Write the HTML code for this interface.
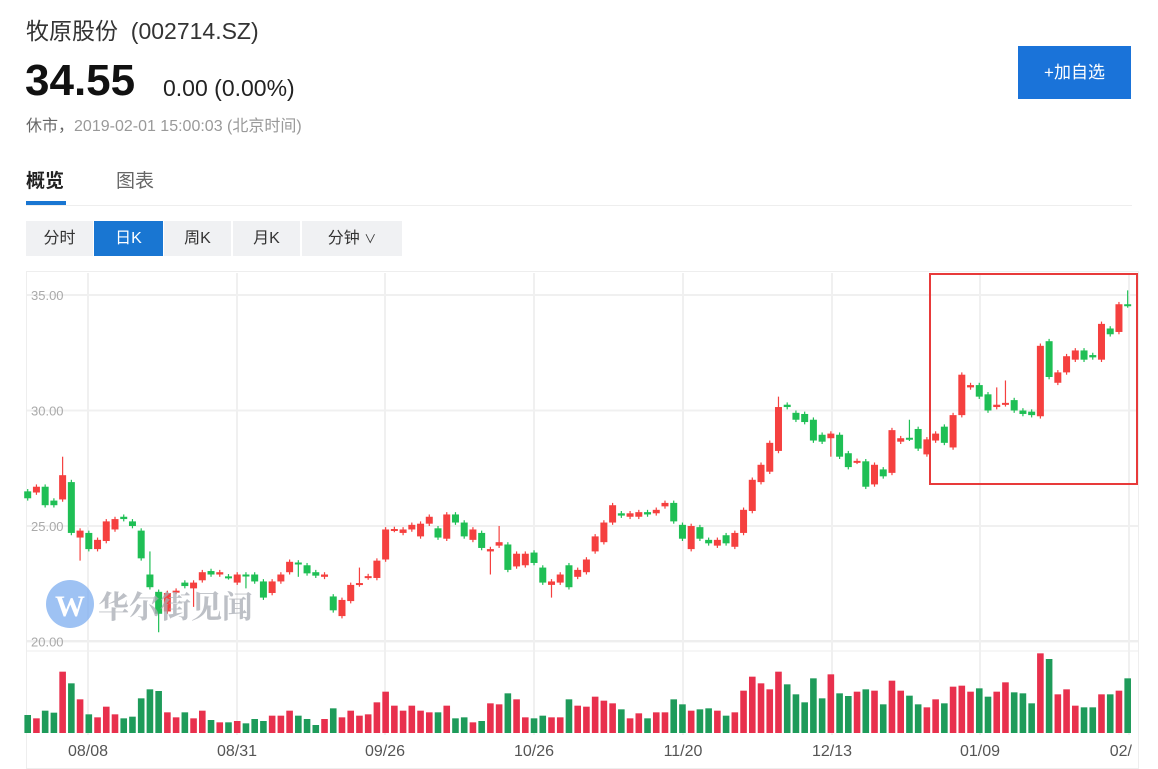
<!DOCTYPE html>
<html><head><meta charset="utf-8"><style>
body{margin:0;width:1158px;height:769px;background:#fff;overflow:hidden;font-family:"Liberation Sans","Noto Sans CJK SC",sans-serif;position:relative}
.a{position:absolute;white-space:nowrap}
.seg{position:absolute;top:221px;height:35px;line-height:35px;text-align:center;font-size:16px;color:#333;background:#f0f1f3}
</style></head><body>
<div class="a" style="left:26px;top:12px;font-size:23px;color:#333">牧原股份&nbsp;&nbsp;(002714.SZ)</div>
<div class="a" style="left:25px;top:56px;font-size:44px;font-weight:bold;color:#111">34.55</div>
<div class="a" style="left:163px;top:75px;font-size:23px;color:#222">0.00 (0.00%)</div>
<div class="a" style="left:26px;top:112px;font-size:16px;color:#999"><span style="color:#666">休市，</span>2019-02-01 15:00:03 (北京时间)</div>
<div class="a" style="left:1018px;top:46px;width:113px;height:53px;background:#1a73d9;color:#fff;font-size:17px;line-height:53px;text-align:center">+加自选</div>
<div class="a" style="left:26px;top:166px;font-size:19px;font-weight:bold;color:#222">概览</div>
<div class="a" style="left:116px;top:166px;font-size:19px;color:#666">图表</div>
<div class="a" style="left:26px;top:201px;width:40px;height:4px;background:#1976d2"></div>
<div class="a" style="left:26px;top:205px;width:1106px;height:1px;background:#eee"></div>
<div class="seg" style="left:26px;width:67px">分时</div>
<div class="seg" style="left:94px;width:69px;background:#1976d2;color:#fff">日K</div>
<div class="seg" style="left:164px;width:67px">周K</div>
<div class="seg" style="left:233px;width:67px">月K</div>
<div class="seg" style="left:302px;width:100px">分钟 <span style="font-size:12px">∨</span></div>
<svg id="c" class="a" style="left:0;top:0" width="1158" height="769"></svg>
<script>
var C=[[26.5,26.2],[26.45,26.7],[26.7,25.9],[26.1,25.9],[26.15,27.2,28],[26.9,24.7],[24.5,24.8,0,23.5],[24.7,24.0],[24.0,24.4],[24.35,25.2],[24.85,25.3],[25.4,25.3],[25.2,25.0],[24.8,23.6],[22.9,22.35,23.9],[22.15,21.2,0,20.4],[21.3,22.1],[22.15,22.2],[22.55,22.4],[22.3,22.55,0,21.5],[22.65,23.0],[23.05,22.9],[22.9,23.0],[22.82,22.78],[22.55,22.9],[22.9,22.85,0,22.3],[22.9,22.6],[22.6,21.9],[22.1,22.6],[22.6,22.9],[23.0,23.45],[23.42,23.38,0,22.8],[23.3,22.95],[23.0,22.85],[22.8,22.9],[21.95,21.35],[21.1,21.8],[21.75,22.45],[22.47,22.53,23.2],[22.77,22.83],[22.75,23.5],[23.55,24.85],[24.83,24.87],[24.7,24.85],[24.85,25.05],[24.55,25.1],[25.1,25.4],[24.9,24.5],[24.45,25.5],[25.5,25.15],[25.15,24.55],[24.4,24.85],[24.7,24.05],[23.9,24.0,0,22.9],[24.15,24.3,25.0],[24.2,23.1],[23.25,23.8],[23.3,23.8],[23.85,23.4],[23.2,22.55],[22.45,22.6,0,21.9],[22.55,22.9],[23.3,22.35],[22.8,23.1],
[23.0,23.55],[23.9,24.55],[24.3,25.15],[25.15,25.9],[25.55,25.45],[25.4,25.55],[25.4,25.6],[25.6,25.5],[25.55,25.7],[25.85,26.0],[26.0,25.2],[25.05,24.45],[24.0,25.0],[24.95,24.45],[24.4,24.25],[24.15,24.4],[24.6,24.25],[24.1,24.7],[24.7,25.7],[25.65,27.0],[26.9,27.65],[27.35,28.6],[28.25,30.15,30.6],[30.25,30.15],[29.9,29.6],[29.85,29.5],[29.6,28.7],[28.95,28.65],[28.8,29.0,0,28.0],[28.95,28.0],[28.15,27.55],[27.78,27.82],[27.8,26.7],[26.8,27.65],[27.45,27.15],[27.3,29.15],[28.65,28.8],[28.82,28.78,29.6],[29.2,28.35],[28.1,28.75],[28.7,29.0],[29.3,28.6],[28.4,29.8],[29.8,31.55],[31.0,31.1],[31.1,30.6],[30.7,30.0],[30.15,30.25,31.0],[30.27,30.33,31.3],[30.45,30.0],[30.0,29.85],[29.95,29.8],[29.75,32.8],[33.0,31.45],[31.2,31.65],[31.65,32.35],[32.2,32.6],[32.6,32.2],[32.4,32.3],[32.2,33.75],[33.55,33.3],[33.4,34.6],[34.6,34.55,35.2]];
var V=[1335,1345,1322,1328,1205,1240,1288,1333,1342,1310,1333,1345,1340,1285,1258,1263,1327,1342,1327,1345,1322,1350,1357,1357,1353,1360,1347,1353,1337,1337,1322,1337,1347,1365,1347,1315,1342,1322,1337,1333,1297,1265,1307,1322,1307,1322,1327,1327,1307,1345,1342,1357,1353,1300,1303,1270,1288,1342,1345,1337,1342,1342,1288,1307,1310,1280,1292,1300,1318,1345,1330,1345,1327,1327,1288,1303,1322,1318,1315,1322,1337,1327,1262,1220,1240,1258,1205,1243,1273,1297,1225,1285,1213,1270,1278,1265,1258,1262,1303,1232,1262,1277,1303,1312,1288,1300,1250,1247,1265,1255,1280,1265,1237,1267,1270,1300,1150,1167,1273,1258,1307,1312,1312,1273,1273,1262,1225];
var s='';
function Y(p){return 295+(35-p)*23.1}
s+='<rect x="26.5" y="271.5" width="1112" height="497" fill="none" stroke="#eee"/>';
[35,30,25,20].forEach(function(p){var y=Y(p);s+='<line x1="27" x2="1138" y1="'+y+'" y2="'+y+'" stroke="#f0f0f0" stroke-width="2"/>';});
s+='<line x1="27" x2="1138" y1="641" y2="641" stroke="#eee" stroke-width="2"/><line x1="27" x2="1138" y1="651" y2="651" stroke="#eee" stroke-width="1"/>';
var L=[[88,'08/08'],[237,'08/31'],[385,'09/26'],[534,'10/26'],[683,'11/20'],[832,'12/13'],[980,'01/09'],[1129,'02/']];
L.forEach(function(l){s+='<line x1="'+l[0]+'" x2="'+l[0]+'" y1="273" y2="735" stroke="#f0f0f0" stroke-width="2"/>';});
[[35,'35.00'],[30,'30.00'],[25,'25.00'],[20,'20.00']].forEach(function(t){s+='<text x="31" y="'+(Y(t[0])+5)+'" font-size="13" fill="#aaa">'+t[1]+'</text>';});
C.forEach(function(c,i){var x=27.7+i*8.73,o=c[0],cl=c[1],up=cl>=o;var col=up?'#f5403f':'#1fbf55';var hi=c[2]||Math.max(o,cl)+0.1,lo=c[3]||Math.min(o,cl)-0.1;
var t=Y(Math.max(o,cl)),b=Y(Math.min(o,cl));if(b-t<2)b=t+2;
s+='<line x1="'+x+'" x2="'+x+'" y1="'+Y(hi)+'" y2="'+Y(lo)+'" stroke="'+col+'" stroke-width="1.2"/>';
s+='<rect x="'+(x-3.5)+'" y="'+t+'" width="7" height="'+(b-t)+'" fill="'+col+'"/>';
var vt=270+V[i]/3;s+='<rect x="'+(x-3.3)+'" y="'+vt+'" width="6.6" height="'+(733-vt)+'" fill="'+(up?'#e8304d':'#1e9b5a')+'"/>';});
s+='<g opacity="0.75"><circle cx="70" cy="604" r="24" fill="#7eaef0"/><text x="70" y="616" font-size="30" font-weight="bold" fill="#fff" text-anchor="middle" font-family="Liberation Serif,serif">W</text><text x="98" y="618" font-size="31" font-weight="bold" fill="#a8acb3" font-family="Noto Serif CJK SC,serif">华尔街见闻</text></g>';
L.forEach(function(l,i){s+='<text x="'+(i==7?1132:l[0])+'" y="756" font-size="16" fill="#555" text-anchor="'+(i==7?'end':'middle')+'">'+l[1]+'</text>';});
s+='<rect x="930" y="274" width="207" height="210" fill="none" stroke="#e83a3a" stroke-width="2"/>';
document.getElementById('c').innerHTML=s;
</script>
</body></html>
